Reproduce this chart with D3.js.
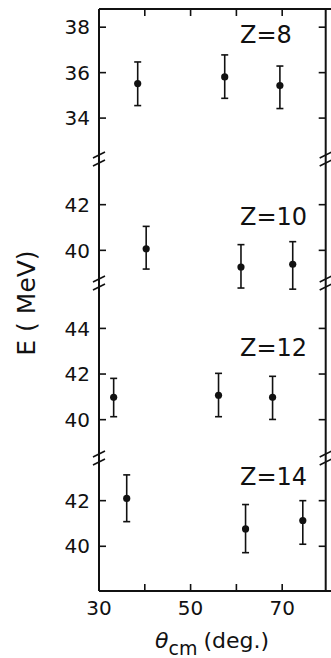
<!DOCTYPE html>
<html>
<head>
<meta charset="utf-8">
<script src="https://cdn.jsdelivr.net/npm/d3@7"></script>
<style>
  body { margin: 0; background: #fff; }
  text { font-family: "DejaVu Sans", sans-serif; fill: #111; }
</style>
</head>
<body>
<div id="chart"></div>
<script>
// panel labels, top to bottom
var zLabels = ["Z=8", "Z=10", "Z=12", "Z=14"];
// theta_cm (deg.) of each point per panel
var theta = [
  [38.45, 57.45, 69.5],
  [40.3, 61.0, 72.3],
  [33.2, 56.1, 67.9],
  [36.05, 62.0, 74.5]
];
// E (MeV) and error bar ends
var energy = [
  [35.52, 35.81, 35.43],
  [40.07, 39.27, 39.39],
  [40.98, 41.07, 40.98],
  [42.1, 40.76, 41.13]
];
var errHi = [
  [36.47, 36.78, 36.29],
  [41.05, 40.25, 40.38],
  [41.81, 42.03, 41.9],
  [43.13, 41.83, 42.0]
];
var errLo = [
  [34.55, 34.87, 34.42],
  [39.18, 38.35, 38.30],
  [40.13, 40.13, 40.01],
  [41.08, 39.72, 40.09]
];
// y tick values per panel
var yTicks = [[34, 36, 38], [40, 42], [40, 42, 44], [40, 42]];
var yDomains = [[32.2, 38.8], [38.57, 44.0], [38.32, 45.99], [38.04, 43.87]];
var labelE = [37.3, 41.1, 42.8, 42.7];
var xTicks = [30, 40, 50, 60, 70];
var xTickLabels = [30, 50, 70];

var width = 331, height = 658;
var left = 99, right = 325.7;
var breaks = [9, 159, 283, 458, 591];   // panel edges in px

var svg = d3.select("#chart").append("svg")
  .attr("width", width)
  .attr("height", height);

var x = d3.scaleLinear().domain([30, 79.5]).range([left, right]);

var tickLen = 7;

// top and bottom frame lines
svg.append("line")
  .attr("x1", left).attr("x2", right + 6)
  .attr("y1", breaks[0]).attr("y2", breaks[0])
  .attr("stroke", "#111").attr("stroke-width", 2);
svg.append("line")
  .attr("x1", left).attr("x2", right + 6)
  .attr("y1", breaks[4]).attr("y2", breaks[4])
  .attr("stroke", "#111").attr("stroke-width", 2);

// side axes
[left, right].forEach(function(xx) {
  svg.append("line")
    .attr("x1", xx).attr("x2", xx)
    .attr("y1", breaks[0]).attr("y2", breaks[4])
    .attr("stroke", "#111").attr("stroke-width", 2);
});

// x ticks top and bottom
svg.selectAll(".xt-top").data(xTicks.slice(1)).enter().append("line")
  .attr("x1", function(d) { return x(d); }).attr("x2", function(d) { return x(d); })
  .attr("y1", breaks[0]).attr("y2", breaks[0] + tickLen)
  .attr("stroke", "#111").attr("stroke-width", 1.6);
svg.selectAll(".xt-bot").data(xTicks.slice(1)).enter().append("line")
  .attr("x1", function(d) { return x(d); }).attr("x2", function(d) { return x(d); })
  .attr("y1", breaks[4]).attr("y2", breaks[4] - tickLen)
  .attr("stroke", "#111").attr("stroke-width", 1.6);

svg.selectAll(".xl").data(xTickLabels).enter().append("text")
  .attr("x", function(d) { return x(d); })
  .attr("y", 615)
  .attr("text-anchor", "middle")
  .attr("font-size", "20px")
  .text(function(d) { return d; });

// break marks on both axes
breaks.slice(1, 4).forEach(function(b) {
  [left, right].forEach(function(xx) {
    [-4, 4].forEach(function(off) {
      svg.append("line")
        .attr("x1", xx - 6).attr("y1", b + off + 3)
        .attr("x2", xx + 6).attr("y2", b + off - 3)
        .attr("stroke", "#111").attr("stroke-width", 1.6);
    });
  });
});

// panels
zLabels.forEach(function(lab, p) {
  var y = d3.scaleLinear().domain(yDomains[p]).range([breaks[p + 1], breaks[p]]);
  var g = svg.append("g");

  g.selectAll(".yt").data(yTicks[p]).enter().append("line")
    .attr("x1", left).attr("x2", left + tickLen)
    .attr("y1", function(d) { return y(d); }).attr("y2", function(d) { return y(d); })
    .attr("stroke", "#111").attr("stroke-width", 1.6);
  g.selectAll(".ytr").data(yTicks[p]).enter().append("line")
    .attr("x1", right).attr("x2", right - tickLen)
    .attr("y1", function(d) { return y(d); }).attr("y2", function(d) { return y(d); })
    .attr("stroke", "#111").attr("stroke-width", 1.6);
  g.selectAll(".yl").data(yTicks[p]).enter().append("text")
    .attr("x", 90)
    .attr("y", function(d) { return y(d); })
    .attr("dy", "0.36em")
    .attr("text-anchor", "end")
    .attr("font-size", "20px")
    .text(function(d) { return d; });

  var pts = theta[p].map(function(t, i) {
    return {t: t, e: energy[p][i], hi: errHi[p][i], lo: errLo[p][i]};
  });

  var pg = g.selectAll(".pt").data(pts).enter().append("g");
  pg.append("line")
    .attr("x1", function(d) { return x(d.t); }).attr("x2", function(d) { return x(d.t); })
    .attr("y1", function(d) { return y(d.hi); }).attr("y2", function(d) { return y(d.lo); })
    .attr("stroke", "#111").attr("stroke-width", 1.6);
  pg.append("line")
    .attr("x1", function(d) { return x(d.t) - 3.5; }).attr("x2", function(d) { return x(d.t) + 3.5; })
    .attr("y1", function(d) { return y(d.hi); }).attr("y2", function(d) { return y(d.hi); })
    .attr("stroke", "#111").attr("stroke-width", 1.6);
  pg.append("line")
    .attr("x1", function(d) { return x(d.t) - 3.5; }).attr("x2", function(d) { return x(d.t) + 3.5; })
    .attr("y1", function(d) { return y(d.lo); }).attr("y2", function(d) { return y(d.lo); })
    .attr("stroke", "#111").attr("stroke-width", 1.6);
  pg.append("circle")
    .attr("cx", function(d) { return x(d.t); })
    .attr("cy", function(d) { return y(d.e); })
    .attr("r", 3.6)
    .attr("fill", "#111");

  g.append("text")
    .attr("x", x(60.8))
    .attr("y", y(labelE[p]))
    .attr("font-size", "24px")
    .text(lab);
});

// axis titles
svg.append("text")
  .attr("transform", "translate(35,303) rotate(-90)")
  .attr("text-anchor", "middle")
  .attr("font-size", "25px")
  .text("E ( MeV)");

var xt = svg.append("text")
  .attr("x", 155)
  .attr("y", 648)
  .attr("font-size", "22px");
xt.append("tspan").attr("font-style", "italic").text("θ");
xt.append("tspan").attr("dy", 7).attr("font-size", "19px").text("cm");
xt.append("tspan").attr("dy", -7).attr("dx", 6).text("(deg.)");
</script>
</body>
</html>
